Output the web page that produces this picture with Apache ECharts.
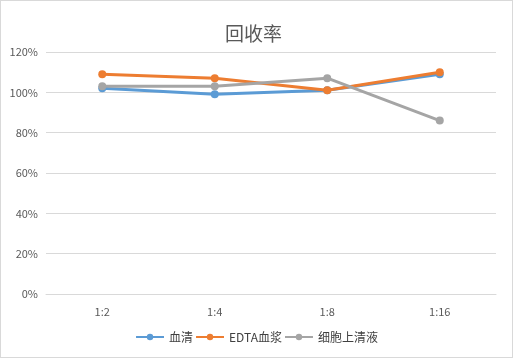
<!DOCTYPE html>
<html><head><meta charset="utf-8">
<script src="https://cdn.jsdelivr.net/npm/echarts@6/dist/echarts.min.js"></script>
<style>html,body{margin:0;padding:0;background:#fff}#c{width:513px;height:358px;box-sizing:border-box;border:1px solid #d9d9d9}</style>
</head><body><div id="c"></div>
<script>
const categories = ['1:2','1:4','1:8','1:16'];
const serum = [1.02, 0.99, 1.01, 1.09];
const edta = [1.09, 1.07, 1.01, 1.10];
const supernatant = [1.03, 1.03, 1.07, 0.86];
const seriesNames = ['血清','EDTA血浆','细胞上清液'];
const colors = ['#5b9bd5','#ed7d31','#a5a5a5'];
const font = '"Microsoft YaHei","Noto Sans CJK SC",sans-serif';
const chart = echarts.init(document.getElementById('c'));
const mk = (name, data, i) => ({
  name, type:'line', data, symbol:'circle', symbolSize:8,
  lineStyle:{width:3,color:colors[i]}, itemStyle:{color:colors[i]}, z: 2+i
});
chart.setOption({
  animation:false,
  title:{text:'回收率', left:219, top:18, textStyle:{fontSize:19,fontWeight:'normal',color:'#595959',fontFamily:font}},
  legend:{bottom:9, left:'center', itemWidth:28, itemHeight:8, itemGap:2,
    textStyle:{fontSize:12,color:'#404040',fontFamily:font}, data:seriesNames},
  grid:{left:45, right:16, top:51, bottom:63},
  xAxis:{type:'category', data:categories, boundaryGap:true,
    axisLine:{lineStyle:{color:'#d9d9d9'}}, axisTick:{show:false},
    axisLabel:{color:'#595959', fontSize:11, margin:12, fontFamily:font}},
  yAxis:{type:'value', min:0, max:1.2, interval:0.2,
    axisLine:{show:false}, axisTick:{show:false},
    splitLine:{lineStyle:{color:'#d9d9d9'}},
    axisLabel:{color:'#595959', fontSize:11, margin:8, fontFamily:font, formatter:v=>Math.round(v*100)+'%'}},
  series:[mk(seriesNames[0],serum,0), mk(seriesNames[1],edta,1), mk(seriesNames[2],supernatant,2)]
});
</script></body></html>
